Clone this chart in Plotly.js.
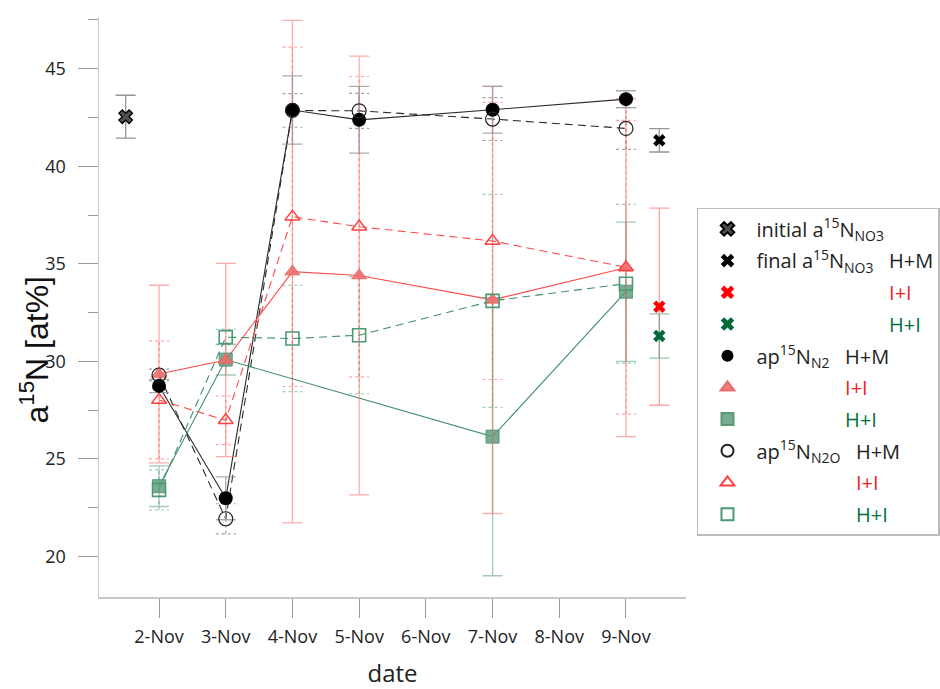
<!DOCTYPE html>
<html><head><meta charset="utf-8">
<script src="https://cdn.plot.ly/plotly-3.0.1.min.js"></script>
<style>html,body{margin:0;padding:0;background:#fff}#chart{width:940px;height:689px}</style>
</head><body><div id="chart"></div>
<script>
// ---- categories ----
const dates = ['2-Nov','3-Nov','4-Nov','5-Nov','6-Nov','7-Nov','8-Nov','9-Nov'];
const dayIdx = [0,1,2,3,4,5,6,7];
const initialDay = -0.5;   // initial NO3 sample (before 2-Nov)
const finalDay = 7.5;      // final NO3 samples (after 9-Nov)

// ---- ap15N of N2 (filled symbols, solid lines, solid error bars) ----
const n2HM     = [28.74, 22.98, 42.88, 42.38, null, 42.90, null, 43.44];
const n2HMerr  = [0.34, 1.10, 1.75, 1.71, null, 1.20, null, 0.43];
const n2II     = [29.35, 30.07, 34.60, 34.40, null, 33.15, null, 34.80];
const n2IIerr  = [4.55, 4.95, 12.88, 11.25, null, 10.95, null, 8.66];
const n2HI     = [23.60, 30.09, null, null, null, 26.14, null, 33.57];
const n2HIerr  = [1.04, 0.79, null, null, null, 7.13, null, 3.57];

// ---- ap15N of N2O (open symbols, dashed lines, dotted error bars) ----
const n2oHM    = [29.30, 21.93, 42.86, 42.84, null, 42.42, null, 41.94];
const n2oHMerr = [0.30, 0.77, 0.86, 0.90, null, 1.10, null, 1.07];
const n2oII    = [28.02, 26.98, 37.41, 36.90, null, 36.17, null, 34.82];
const n2oIIerr = [3.02, 1.25, 8.70, 7.70, null, 7.10, null, 7.53];
const n2oHI    = [23.41, 31.24, 31.17, 31.34, null, 33.10, null, 33.98];
const n2oHIerr = [1.03, 0.40, 2.72, 3.00, null, 5.46, null, 4.07];

// ---- a15N of NO3 ----
const initNO3 = 42.54, initNO3err = 1.10;
const finalNO3HM = 41.33, finalNO3HMerr = 0.60;
const finalNO3II = 32.80, finalNO3IIerr = 5.05;
const finalNO3HI = 31.30, finalNO3HIerr = 1.13;

// ---- colours ----
const cBlack = '#2a2a2a', cRed = '#ff4a4a', cGreen = '#3f9068';
const txtRed = '#ee1c25', txtGreen = '#00703c';

const CAP = 0.15; // cap half-width in days

function dottedBars(vals, errs) {
  const xs = [], ys = [];
  vals.forEach((v, i) => {
    if (v === null) return;
    const x = dayIdx[i], lo = v - errs[i], hi = v + errs[i];
    xs.push(x, x, null, x - CAP, x + CAP, null, x - CAP, x + CAP, null);
    ys.push(lo, hi, null, hi, hi, null, lo, lo, null);
  });
  return {xs, ys};
}

const traces = [];
function addDotted(vals, errs, color) {
  const d = dottedBars(vals, errs);
  traces.push({x: d.xs, y: d.ys, type: 'scatter', mode: 'lines', showlegend: false, hoverinfo: 'skip',
    line: {color: color, width: 1.2, dash: 'dot'}});
}
function addLine(vals, color, dash) {
  traces.push({x: dayIdx, y: vals, type: 'scatter', mode: 'lines', connectgaps: true, showlegend: false,
    hoverinfo: 'skip', line: {color: color, width: 1.1, dash: dash}});
}

// dotted error bars (N2O)
addDotted(n2oHM, n2oHMerr, 'rgba(120,120,120,0.7)');
addDotted(n2oII, n2oIIerr, 'rgba(255,80,80,0.5)');
addDotted(n2oHI, n2oHIerr, 'rgba(70,150,110,0.5)');

// connecting lines
addLine(n2HM, cBlack, 'solid');
addLine(n2oHM, cBlack, '8px,5px');
addLine(n2II, cRed, 'solid');
addLine(n2oII, cRed, '8px,5px');
addLine(n2HI, cGreen, 'solid');
addLine(n2oHI, cGreen, '8px,5px');

function errY(arr, color) {
  return {type: 'data', array: arr, visible: true, color: color, thickness: 1.3, width: 10};
}
const hid = s => '<span style="color:#ffffff">' + s + '</span>';
const sN2 = 'ap<sup>15</sup>N<sub>N2</sub>&nbsp;&nbsp;&nbsp;';
const sN2O = 'ap<sup>15</sup>N<sub>N2O</sub>&nbsp;&nbsp;&nbsp;';
const sFin = 'final a<sup>15</sup>N<sub>NO3</sub>&nbsp;&nbsp;&nbsp;';

// markers (legend entries)
traces.push({x: dayIdx, y: n2HI, type: 'scatter', mode: 'markers', legendrank: 7, legendgroup: 'g7',
  name: hid(sN2) + '<span style="color:' + txtGreen + '">H+I</span>',
  error_y: errY(n2HIerr, 'rgba(70,150,110,0.5)'),
  marker: {symbol: 'square', size: 13, color: 'rgba(95,160,128,0.85)', line: {color: 'rgba(80,145,112,0.9)', width: 1}}});
traces.push({x: dayIdx, y: n2II, type: 'scatter', mode: 'markers', legendrank: 6, legendgroup: 'g6',
  name: hid(sN2) + '<span style="color:' + txtRed + '">I+I</span>',
  error_y: errY(n2IIerr, 'rgba(255,90,90,0.5)'),
  marker: {symbol: 'triangle-up', size: 13, color: 'rgba(240,110,110,0.9)', line: {color: 'rgba(230,100,100,0.9)', width: 1}}});
traces.push({x: dayIdx, y: n2oHI, type: 'scatter', mode: 'markers', legendrank: 10, legendgroup: 'g10',
  name: hid(sN2O) + '<span style="color:' + txtGreen + '">H+I</span>',
  marker: {symbol: 'square-open', size: 13, color: '#4c9a74', line: {width: 1.6}}});
traces.push({x: dayIdx, y: n2oII, type: 'scatter', mode: 'markers', legendrank: 9, legendgroup: 'g9',
  name: hid(sN2O) + '<span style="color:' + txtRed + '">I+I</span>',
  marker: {symbol: 'triangle-up-open', size: 13, color: '#ff4040', line: {width: 1.4}}});
traces.push({x: dayIdx, y: n2HM, type: 'scatter', mode: 'markers', legendrank: 5, legendgroup: 'g5',
  name: sN2 + 'H+M',
  error_y: errY(n2HMerr, 'rgba(150,150,150,0.8)'),
  marker: {symbol: 'circle', size: 14, color: '#000'}});
traces.push({x: dayIdx, y: n2oHM, type: 'scatter', mode: 'markers', legendrank: 8, legendgroup: 'g8',
  name: sN2O + 'H+M',
  marker: {symbol: 'circle-open', size: 14, color: '#222', line: {width: 1.2}}});

traces.push({x: [initialDay], y: [initNO3], type: 'scatter', mode: 'markers', legendrank: 1, legendgroup: 'g1',
  name: 'initial a<sup>15</sup>N<sub>NO3</sub>',
  error_y: errY([initNO3err], 'rgba(130,130,130,0.85)'),
  marker: {symbol: 'x', size: 12, color: '#505050', line: {color: '#000', width: 1.3}}});
traces.push({x: [finalDay], y: [finalNO3HM], type: 'scatter', mode: 'markers', legendrank: 2, legendgroup: 'g2',
  name: sFin + 'H+M',
  error_y: errY([finalNO3HMerr], 'rgba(130,130,130,0.85)'),
  marker: {symbol: 'x', size: 11, color: '#000'}});
traces.push({x: [finalDay], y: [finalNO3II], type: 'scatter', mode: 'markers', legendrank: 3, legendgroup: 'g3',
  name: hid(sFin) + '<span style="color:' + txtRed + '">I+I</span>',
  error_y: errY([finalNO3IIerr], 'rgba(255,90,90,0.55)'),
  marker: {symbol: 'x', size: 11, color: '#ff0000'}});
traces.push({x: [finalDay], y: [finalNO3HI], type: 'scatter', mode: 'markers', legendrank: 4, legendgroup: 'g4',
  name: hid(sFin) + '<span style="color:' + txtGreen + '">H+I</span>',
  error_y: errY([finalNO3HIerr], 'rgba(70,150,110,0.55)'),
  marker: {symbol: 'x', size: 11, color: '#006b38'}});

const layout = {
  width: 940, height: 689,
  margin: {l: 99, r: 254, t: 18, b: 92, autoexpand: false},
  paper_bgcolor: '#fff', plot_bgcolor: '#fff',
  font: {family: 'Open Sans, sans-serif', color: '#222'},
  showlegend: true,
  xaxis: {range: [-0.9, 7.9], tickmode: 'array', tickvals: dayIdx, ticktext: dates,
    showgrid: false, zeroline: false, showline: true, linecolor: '#c8c8c8', linewidth: 1.5,
    ticks: 'outside', ticklen: 19, tickcolor: '#999', tickwidth: 1, ticklabelstandoff: 4,
    tickfont: {size: 18, color: '#222'}, automargin: false,
    title: {text: 'date', font: {size: 24, color: '#222'}, standoff: 18}},
  yaxis: {range: [17.92, 47.6], tickmode: 'array', tickvals: [20, 25, 30, 35, 40, 45],
    showgrid: false, zeroline: false, showline: true, linecolor: '#c8c8c8', linewidth: 1.5,
    ticks: 'outside', ticklen: 20, tickcolor: '#999', tickwidth: 1, ticklabelstandoff: 8,
    tickfont: {size: 18, color: '#222'}, automargin: false,
    minor: {tickmode: 'array', tickvals: [22.5, 27.5, 32.5, 37.5, 42.5, 47.5], ticks: 'outside', ticklen: 10, tickcolor: '#999', tickwidth: 1}},
  annotations: [{text: 'a<sup>15</sup>N [at%]', xref: 'paper', yref: 'paper', x: -0.111, y: 0.427,
    xanchor: 'center', yanchor: 'middle', textangle: -90, showarrow: false,
    font: {size: 32, family: 'Liberation Sans, Arial, sans-serif', color: '#111'}}],
  legend: {x: 1.0187, y: 0.672, xanchor: 'left', yanchor: 'top', bordercolor: '#bbb', borderwidth: 1.5,
    bgcolor: '#fff', font: {size: 20, color: '#222'}, itemwidth: 48, tracegroupgap: 2.7, itemsizing: 'constant'}
};

Plotly.newPlot('chart', traces, layout, {displayModeBar: false, staticPlot: true});
</script></body></html>
